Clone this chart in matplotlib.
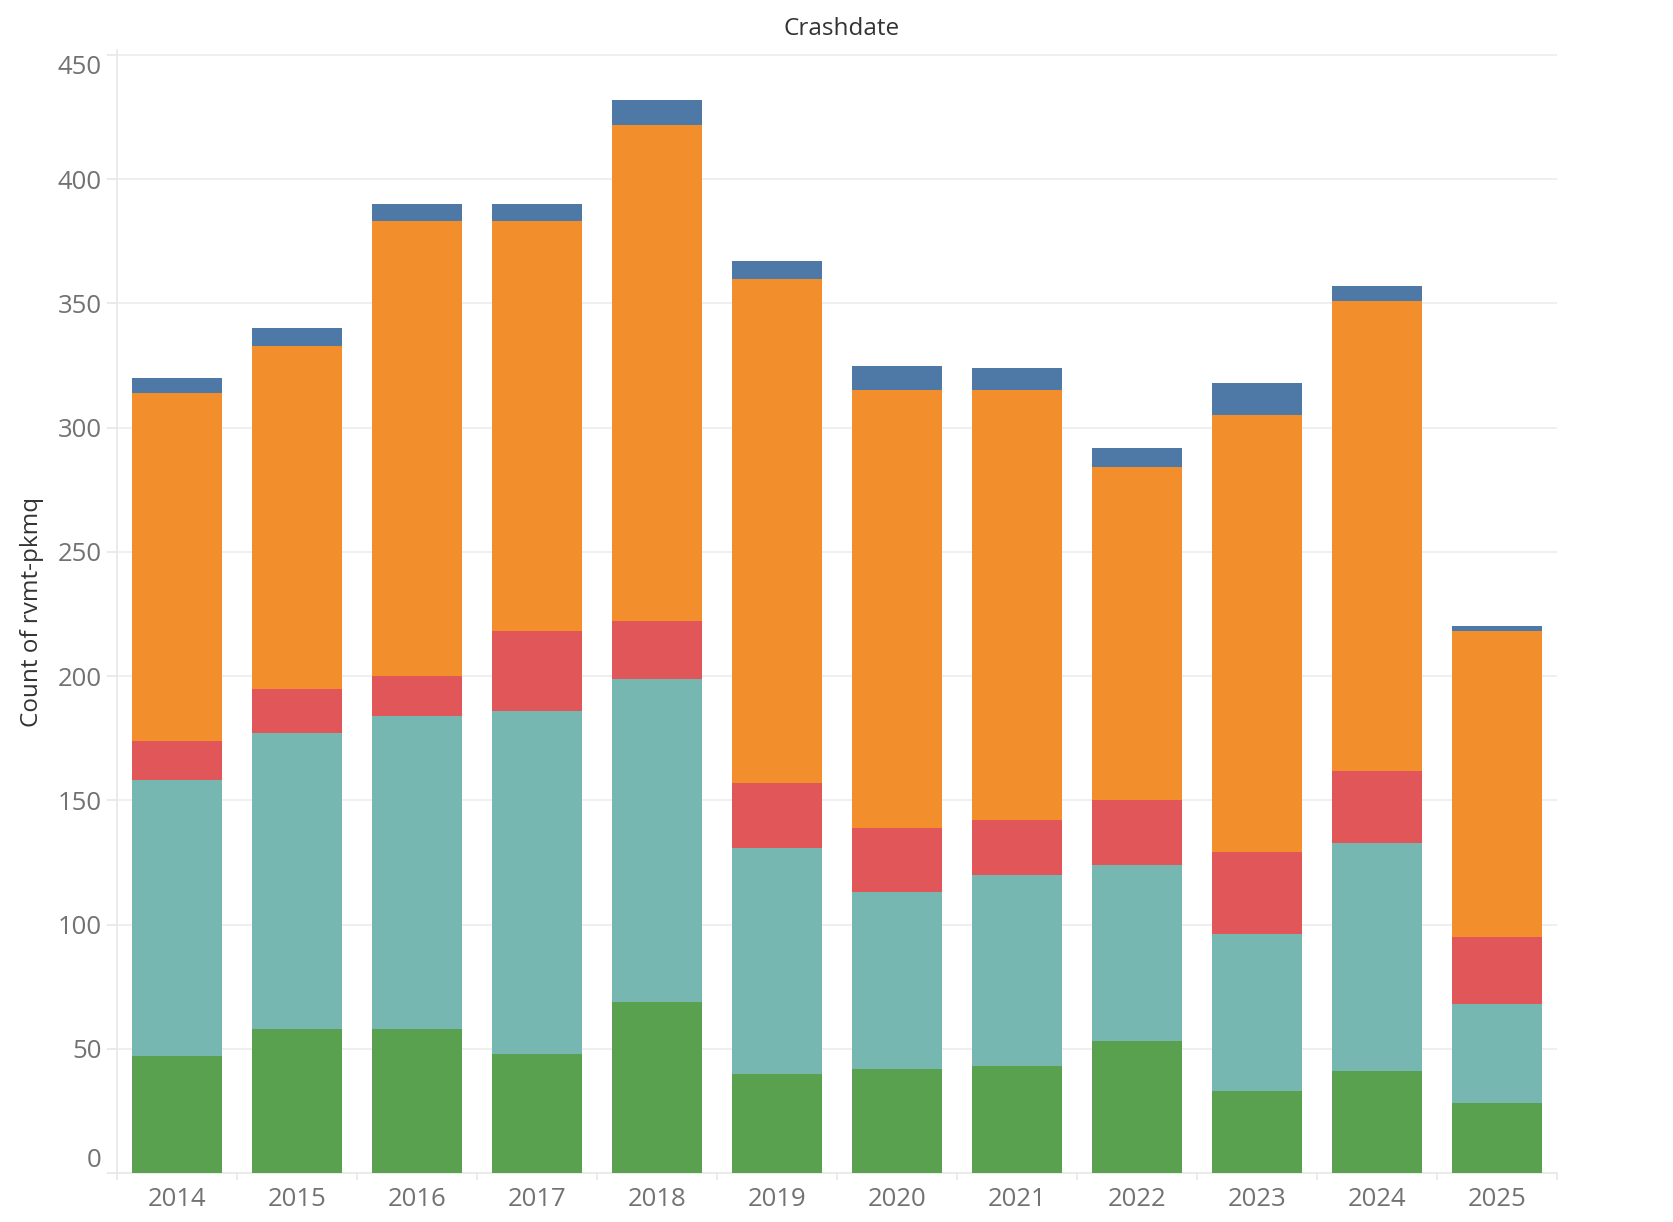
import numpy as np
import matplotlib.pyplot as plt
from matplotlib.ticker import FixedLocator

years = ['2014', '2015', '2016', '2017', '2018', '2019',
         '2020', '2021', '2022', '2023', '2024', '2025']

# stacked segments, bottom to top
green = [47, 58, 58, 48, 69, 40, 42, 43, 53, 33, 41, 28]
teal = [111, 119, 126, 138, 130, 91, 71, 77, 71, 63, 92, 40]
red = [16, 18, 16, 32, 23, 26, 26, 22, 26, 33, 29, 27]
orange = [140, 138, 183, 165, 200, 203, 176, 173, 134, 176, 189, 123]
blue = [6, 7, 7, 7, 10, 7, 10, 9, 8, 13, 6, 2]

series = [green, teal, red, orange, blue]
colors = ['#59a14f', '#76b7b2', '#e15759', '#f28e2b', '#4e79a7']

plt.rcParams['font.family'] = ['Open Sans', 'DejaVu Sans']

fig = plt.figure(figsize=(16.74, 12.22), dpi=100)
ax = fig.add_axes([117/1674, 49/1222, 1440/1674, 1123/1222])

x = np.arange(len(years))
bottom = np.zeros(len(years))
for vals, col in zip(series, colors):
    ax.bar(x, vals, width=0.75, bottom=bottom, color=col, linewidth=0, zorder=3)
    bottom += np.array(vals)

ax.set_xlim(-0.5, len(years) - 0.5)
ax.set_ylim(0, 452)

ax.set_yticks(range(0, 451, 50))
ax.grid(axis='y', color='#efefef', linewidth=1.4, zorder=0)
ax.tick_params(axis='y', length=7, color='#e6e6e6', width=1.2, pad=4,
               labelsize=18.5, labelcolor='#727272')
labels = ax.get_yticklabels()
labels[0].set_va('bottom')
labels[-1].set_va('top')

ax.set_xticks(x)
ax.set_xticklabels(years)
ax.tick_params(axis='x', length=0, pad=10, labelsize=18.5, labelcolor='#727272')
ax.xaxis.set_minor_locator(FixedLocator(np.arange(-0.5, len(years), 1.0)))
ax.tick_params(axis='x', which='minor', length=5, color='#e8e8e8', width=1.2)

for s in ['top', 'right']:
    ax.spines[s].set_visible(False)
for s in ['left', 'bottom']:
    ax.spines[s].set_color('#e8e8e8')
    ax.spines[s].set_linewidth(1.2)

ax.set_ylabel('Count of rvmt-pkmq', fontsize=17.5, color='#333333')
ax.yaxis.set_label_coords(-0.0508, 0.5)
fig.text(842/1674, 1 - 29/1222, 'Crashdate', ha='center', va='center',
         fontsize=17.5, color='#333333')

plt.savefig('out.png', dpi=100)
